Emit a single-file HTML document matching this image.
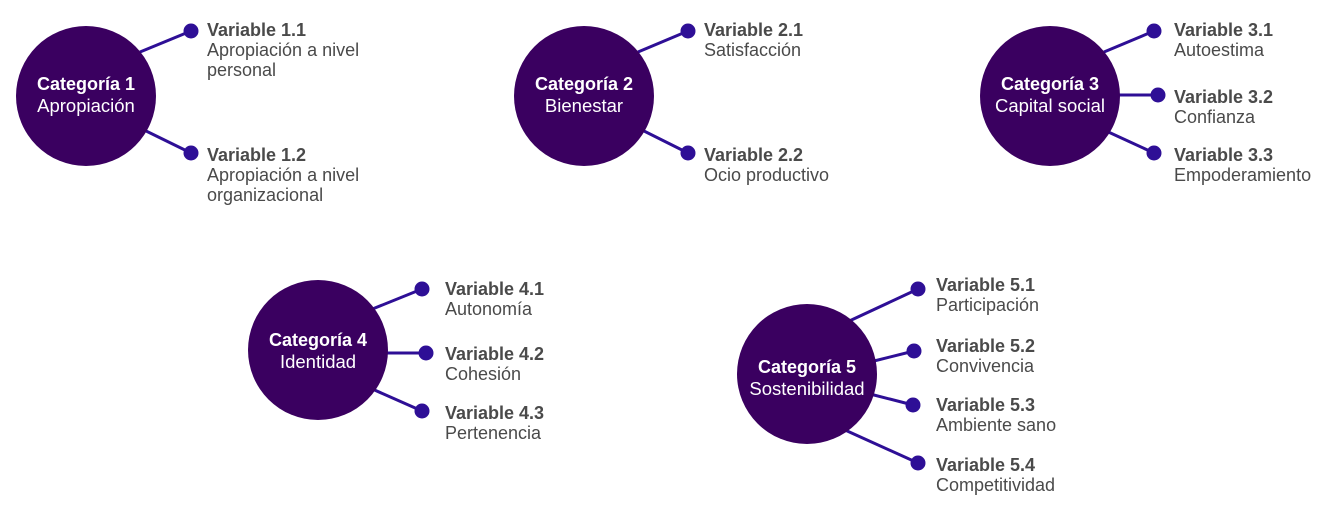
<!DOCTYPE html>
<html><head><meta charset="utf-8"><style>
html,body{margin:0;padding:0;background:#fff;}
svg{display:block;}
.b{font-family:"Liberation Sans",sans-serif;font-size:18px;font-weight:bold;fill:#4a4a4a;}
.r{font-family:"Liberation Sans",sans-serif;font-size:18px;fill:#4a4a4a;}
.cb{font-family:"Liberation Sans",sans-serif;font-size:18px;font-weight:bold;fill:#fff;}
.cr{font-family:"Liberation Sans",sans-serif;font-size:18.5px;fill:#fff;}
line{stroke:#2e0f96;stroke-width:3;}
.d{fill:#2e0f96;}
.c{fill:#3a0060;}
</style></head><body>
<svg width="1343" height="516" viewBox="0 0 1343 516">
<!-- 1 -->
<line x1="140" y1="52" x2="191" y2="31"/><line x1="140" y1="128" x2="191" y2="153"/>
<circle class="c" cx="86" cy="96" r="70"/>
<circle class="d" cx="191" cy="31" r="7.5"/><circle class="d" cx="191" cy="153" r="7.5"/>
<text class="cb" x="86" y="90" text-anchor="middle">Categoría 1</text>
<text class="cr" x="86" y="112" text-anchor="middle">Apropiación</text>
<text class="b" x="207" y="36">Variable 1.1</text>
<text class="r" x="207" y="56">Apropiación a nivel</text>
<text class="r" x="207" y="76">personal</text>
<text class="b" x="207" y="161">Variable 1.2</text>
<text class="r" x="207" y="181">Apropiación a nivel</text>
<text class="r" x="207" y="201">organizacional</text>
<!-- 2 -->
<line x1="638" y1="52" x2="688" y2="31"/><line x1="638" y1="128" x2="688" y2="153"/>
<circle class="c" cx="584" cy="96" r="70"/>
<circle class="d" cx="688" cy="31" r="7.5"/><circle class="d" cx="688" cy="153" r="7.5"/>
<text class="cb" x="584" y="90" text-anchor="middle">Categoría 2</text>
<text class="cr" x="584" y="112" text-anchor="middle">Bienestar</text>
<text class="b" x="704" y="36">Variable 2.1</text>
<text class="r" x="704" y="56">Satisfacción</text>
<text class="b" x="704" y="161">Variable 2.2</text>
<text class="r" x="704" y="181">Ocio productivo</text>
<!-- 3 -->
<line x1="1104" y1="52" x2="1154" y2="31"/><line x1="1115" y1="95" x2="1158" y2="95"/><line x1="1104" y1="130" x2="1154" y2="153"/>
<circle class="c" cx="1050" cy="96" r="70"/>
<circle class="d" cx="1154" cy="31" r="7.5"/><circle class="d" cx="1158" cy="95" r="7.5"/><circle class="d" cx="1154" cy="153" r="7.5"/>
<text class="cb" x="1050" y="90" text-anchor="middle">Categoría 3</text>
<text class="cr" x="1050" y="112" text-anchor="middle">Capital social</text>
<text class="b" x="1174" y="36">Variable 3.1</text>
<text class="r" x="1174" y="56">Autoestima</text>
<text class="b" x="1174" y="103">Variable 3.2</text>
<text class="r" x="1174" y="123">Confianza</text>
<text class="b" x="1174" y="161">Variable 3.3</text>
<text class="r" x="1174" y="181">Empoderamiento</text>
<!-- 4 -->
<line x1="370" y1="310" x2="422" y2="289"/><line x1="383" y1="353" x2="426" y2="353"/><line x1="370" y1="388" x2="422" y2="411"/>
<circle class="c" cx="318" cy="350" r="70"/>
<circle class="d" cx="422" cy="289" r="7.5"/><circle class="d" cx="426" cy="353" r="7.5"/><circle class="d" cx="422" cy="411" r="7.5"/>
<text class="cb" x="318" y="346" text-anchor="middle">Categoría 4</text>
<text class="cr" x="318" y="368" text-anchor="middle">Identidad</text>
<text class="b" x="445" y="295">Variable 4.1</text>
<text class="r" x="445" y="315">Autonomía</text>
<text class="b" x="445" y="360">Variable 4.2</text>
<text class="r" x="445" y="380">Cohesión</text>
<text class="b" x="445" y="419">Variable 4.3</text>
<text class="r" x="445" y="439">Pertenencia</text>
<!-- 5 -->
<line x1="845" y1="323" x2="918" y2="289"/><line x1="870" y1="362" x2="914" y2="351"/><line x1="870" y1="394" x2="913" y2="405"/><line x1="845" y1="430" x2="918" y2="463"/>
<circle class="c" cx="807" cy="374" r="70"/>
<circle class="d" cx="918" cy="289" r="7.5"/><circle class="d" cx="914" cy="351" r="7.5"/><circle class="d" cx="913" cy="405" r="7.5"/><circle class="d" cx="918" cy="463" r="7.5"/>
<text class="cb" x="807" y="373" text-anchor="middle">Categoría 5</text>
<text class="cr" x="807" y="395" text-anchor="middle">Sostenibilidad</text>
<text class="b" x="936" y="291">Variable 5.1</text>
<text class="r" x="936" y="311">Participación</text>
<text class="b" x="936" y="352">Variable 5.2</text>
<text class="r" x="936" y="372">Convivencia</text>
<text class="b" x="936" y="411">Variable 5.3</text>
<text class="r" x="936" y="431">Ambiente sano</text>
<text class="b" x="936" y="471">Variable 5.4</text>
<text class="r" x="936" y="491">Competitividad</text>
</svg>
</body></html>
